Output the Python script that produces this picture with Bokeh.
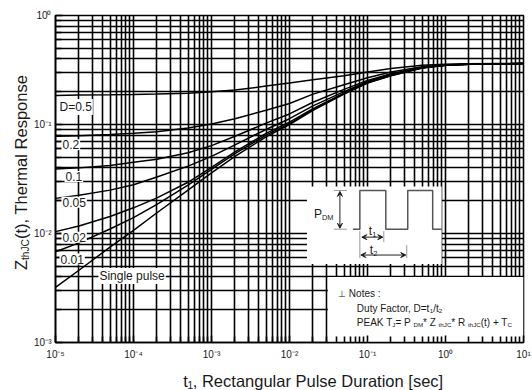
import math
from bokeh.plotting import figure
from bokeh.layouts import row, column
from bokeh.models import (Label, FixedTicker, CustomJSTickFormatter, Range1d,
                          Arrow, VeeHead)
from bokeh.embed import file_html
from bokeh.resources import INLINE

# ---------------- data ----------------
t_sec = [1e-5, 2e-5, 5e-5, 1e-4, 2e-4, 5e-4, 1e-3, 2e-3, 5e-3, 1e-2,
         2e-2, 5e-2, 1e-1, 2e-1, 5e-1, 1.0, 2.0, 5.0, 10.0]

z_d050 = [0.185, 0.186, 0.187, 0.188, 0.190, 0.194, 0.200, 0.207, 0.225, 0.240,
          0.258, 0.280, 0.303, 0.327, 0.349, 0.357, 0.360, 0.362, 0.362]
z_d020 = [0.078, 0.079, 0.081, 0.083, 0.086, 0.093, 0.101, 0.113, 0.135, 0.156,
          0.190, 0.232, 0.268, 0.303, 0.338, 0.353, 0.359, 0.361, 0.362]
z_d010 = [0.039, 0.040, 0.042, 0.045, 0.048, 0.055, 0.064, 0.078, 0.103, 0.125,
          0.160, 0.210, 0.254, 0.292, 0.334, 0.351, 0.358, 0.361, 0.362]
z_d005 = [0.0210, 0.0224, 0.0250, 0.0280, 0.0330, 0.0415, 0.051, 0.065, 0.090, 0.113,
          0.148, 0.200, 0.248, 0.287, 0.332, 0.350, 0.358, 0.360, 0.362]
z_d002 = [0.0104, 0.0117, 0.0143, 0.0172, 0.0212, 0.0295, 0.0405, 0.056, 0.083, 0.105,
          0.140, 0.194, 0.243, 0.283, 0.331, 0.350, 0.358, 0.360, 0.362]
z_d001 = [0.0068, 0.0082, 0.0110, 0.0140, 0.0185, 0.0278, 0.0388, 0.054, 0.080, 0.102,
          0.137, 0.192, 0.241, 0.281, 0.330, 0.350, 0.358, 0.360, 0.362]
z_single = [0.0032, 0.0046, 0.0075, 0.0107, 0.0155, 0.0250, 0.0360, 0.051, 0.077, 0.100,
            0.135, 0.190, 0.240, 0.280, 0.330, 0.350, 0.358, 0.360, 0.362]

curves = [z_d050, z_d020, z_d010, z_d005, z_d002, z_d001, z_single]
curve_labels = ["D=0.5", "0.2", "0.1", "0.05", "0.02", "0.01", "Single pulse"]

x_exps = [-5, -4, -3, -2, -1, 0, 1]
x_tick_labels = ["10⁻⁵", "10⁻⁴", "10⁻³", "10⁻²", "10⁻¹", "10⁰", "10¹"]
y_exps = [-3, -2, -1, 0]
y_tick_labels = ["10⁻³", "10⁻²", "10⁻¹", "10⁰"]

# ---------------- layout geometry (page pixels) ----------------
W, H = 532, 390
LW = 31            # width of the strip holding the y title
BH = 28            # height of the strip holding the x title
FL, FR, FT, FB = 54, 523, 15, 344   # plot frame on the page
FONT = "Liberation Sans"
TXT = "#1a1a1a"


def px2x(px):
    return 10 ** (-5 + 6 * (px - FL) / (FR - FL))


def px2y(py):
    return 10 ** (-3 * (py - FT) / (FB - FT))


AW = {' ': 278, '(': 333, ')': 333, '*': 389, '+': 584, ',': 278, '-': 333, '.': 278,
      '/': 278, ':': 278, '=': 584, '[': 278, ']': 278, 'A': 667, 'C': 722, 'D': 722,
      'E': 667, 'F': 611, 'J': 500, 'K': 667, 'M': 833, 'N': 722, 'P': 667, 'R': 722,
      'T': 611, 'Z': 611, 'a': 556, 'c': 500, 'e': 556, 'g': 556, 'h': 556, 'i': 222,
      'l': 222, 'm': 833, 'n': 556, 'o': 556, 'p': 556, 'r': 333, 's': 500, 't': 278,
      'u': 556, 'y': 500}


def tw(s, size):
    return sum(AW.get(c, 556) for c in s) / 1000.0 * size


def rich(fig, cx, cy, pieces, x0, base, size, angle=0.0, color=TXT):
    pos = 0.0
    for s, kind in pieces:
        fs = size if kind == "n" else size * 0.62
        off = 0.0 if kind == "n" else size * 0.28
        if angle == 0.0:
            xx, yy = x0 + pos, base + off
        else:
            xx, yy = x0 + off, base - pos
        fig.add_layout(Label(x=cx(xx), y=cy(yy), text=s, text_font=FONT,
                             text_font_size=f"{fs:.1f}px", text_color=color,
                             text_baseline="alphabetic", text_align="left", angle=angle))
        pos += tw(s, fs)


def rich_width(pieces, size):
    return sum(tw(s, size if k == "n" else size * 0.62) for s, k in pieces)


def blank(w, h):
    f = figure(width=w, height=h, x_range=Range1d(0, w), y_range=Range1d(h, 0),
               x_axis_location=None, y_axis_location=None,
               output_backend="svg", toolbar_location=None,
               min_border_left=0, min_border_right=0, min_border_top=0, min_border_bottom=0)
    f.outline_line_color = None
    f.background_fill_color = "white"
    f.border_fill_color = "white"
    f.xgrid.visible = False
    f.ygrid.visible = False
    return f


# ---------------- main chart ----------------
p = figure(width=W - LW, height=H - BH, x_axis_type="log", y_axis_type="log",
           x_range=Range1d(1e-5, 10), y_range=Range1d(1e-3, 1),
           output_backend="svg", toolbar_location=None,
           min_border_left=FL - LW, min_border_right=W - FR,
           min_border_top=FT, min_border_bottom=H - BH - FB)
p.background_fill_color = "white"
p.border_fill_color = "white"
p.outline_line_color = "black"
p.outline_line_width = 1.6

x_minor = [k * 10.0 ** e for e in x_exps[:-1] for k in range(2, 10)]
y_minor = [k * 10.0 ** e for e in y_exps[:-1] for k in range(2, 10)]
xt = FixedTicker(ticks=[10.0 ** e for e in x_exps], minor_ticks=x_minor)
yt = FixedTicker(ticks=[10.0 ** e for e in y_exps], minor_ticks=y_minor)
p.xaxis.ticker = xt
p.yaxis.ticker = yt
p.xgrid.ticker = xt
p.ygrid.ticker = yt

code = ("const e = Math.round(Math.log10(tick)); const i = exps.indexOf(e);"
        " return i >= 0 ? labels[i] : '';")
p.xaxis.formatter = CustomJSTickFormatter(args=dict(exps=x_exps, labels=x_tick_labels), code=code)
p.yaxis.formatter = CustomJSTickFormatter(args=dict(exps=y_exps, labels=y_tick_labels), code=code)

for ax in (p.xaxis[0], p.yaxis[0]):
    ax.major_tick_in = 7
    ax.major_tick_out = 0
    ax.minor_tick_in = 6
    ax.minor_tick_out = 0
    ax.major_tick_line_width = 1.6
    ax.minor_tick_line_width = 1.6
    ax.axis_line_width = 1.6
    ax.major_label_text_font = FONT
    ax.major_label_text_font_size = "10px"
    ax.major_label_text_color = TXT
p.xaxis[0].major_label_standoff = 6
p.yaxis[0].major_label_standoff = 4

for g in (p.xgrid[0], p.ygrid[0]):
    g.grid_line_color = "black"
    g.grid_line_width = 1.6
    g.grid_line_alpha = 1.0
    g.minor_grid_line_color = "black"
    g.minor_grid_line_width = 1.6

# white inset boxes (drawn over the grid)
p.quad(left=[px2x(327)], right=[10], top=[px2y(278)], bottom=[1e-3],
       fill_color="white", line_color=None)
p.quad(left=[px2x(306)], right=[px2x(441)], top=[px2y(187)], bottom=[px2y(265)],
       fill_color="white", line_color=None)

# curves
for z in curves:
    p.line(t_sec, z, line_color="black", line_width=1.5)

# curve labels
label_pos = [(57, 107), (60, 145), (63, 177), (60, 203), (60, 238), (58, 260), (97, 277)]
for txt, (lx, ly) in zip(curve_labels, label_pos):
    p.add_layout(Label(x=px2x(lx), y=px2y(ly), text=txt, text_font=FONT,
                       text_font_size="12px", text_color=TXT, text_baseline="middle",
                       text_align="left", background_fill_color="white", padding=1))

# pulse diagram
GR = "#555555"
wave_x = [352, 359, 359, 385, 385, 407, 407, 432, 432, 441]
wave_y = [230, 230, 191, 191, 230, 230, 191, 191, 230, 230]
p.line([px2x(v) for v in wave_x], [px2y(v) for v in wave_y], line_color=GR, line_width=1.5)
for (xa, ya, xb, yb) in [(359, 232, 359, 259), (406, 246, 406, 259), (383, 232, 383, 243),
                         (333, 230, 346, 230), (333, 191, 346, 191)]:
    p.line([px2x(xa), px2x(xb)], [px2y(ya), px2y(yb)], line_color="#999999", line_width=1)


def darrow(xa, ya, xb, yb):
    p.add_layout(Arrow(start=VeeHead(size=5, line_color="#222222", line_width=1),
                       end=VeeHead(size=5, line_color="#222222", line_width=1),
                       x_start=px2x(xa), y_start=px2y(ya), x_end=px2x(xb), y_end=px2y(yb),
                       line_color="#222222", line_width=1))


darrow(339, 192, 339, 229)
darrow(361, 238, 382, 238)
darrow(360, 256, 405, 256)
rich(p, px2x, px2y, [("P", "n"), ("DM", "s")], 313, 215, 12)
rich(p, px2x, px2y, [("t", "n"), ("1", "s")], 368, 232, 12)
rich(p, px2x, px2y, [("t", "n"), ("2", "s")], 369, 251, 12)

# notes
rich(p, px2x, px2y, [("⊥", "n")], 337, 295, 9)
rich(p, px2x, px2y, [("Notes :", "n")], 348, 295, 10)
rich(p, px2x, px2y, [("Duty Factor, D=t", "n"), ("1", "s"), ("/t", "n"), ("2", "s")],
     356, 309.5, 10)
rich(p, px2x, px2y, [("PEAK T", "n"), ("J", "s"), (" = P", "n"), ("DM", "s"), (" * Z", "n"),
                     ("thJC", "s"), (" * R", "n"), ("thJC", "s"), ("(t) + T", "n"),
                     ("C", "s")], 356, 323.5, 10)

# ---------------- axis titles (own strips so they are not clipped) ----------------
TS = 16.5
left = blank(LW, H)
yt_pieces = [("Z", "n"), ("thJC", "s"), ("(t), Thermal Response", "n")]
wy = rich_width(yt_pieces, TS)
rich(left, lambda v: v, lambda v: v, yt_pieces, 20, 172 + wy / 2, TS, angle=math.pi / 2)

bottom = blank(W - LW, BH)
xt_pieces = [("t", "n"), ("1", "s"), (", Rectangular Pulse Duration [sec]", "n")]
wx = rich_width(xt_pieces, TS)
rich(bottom, lambda v: v - LW, lambda v: v - (H - BH), xt_pieces, 298 - wx / 2, 380, TS)

layout = row(left, column(p, bottom, spacing=0), spacing=0)
open("out.html", "w").write(file_html(layout, INLINE))
